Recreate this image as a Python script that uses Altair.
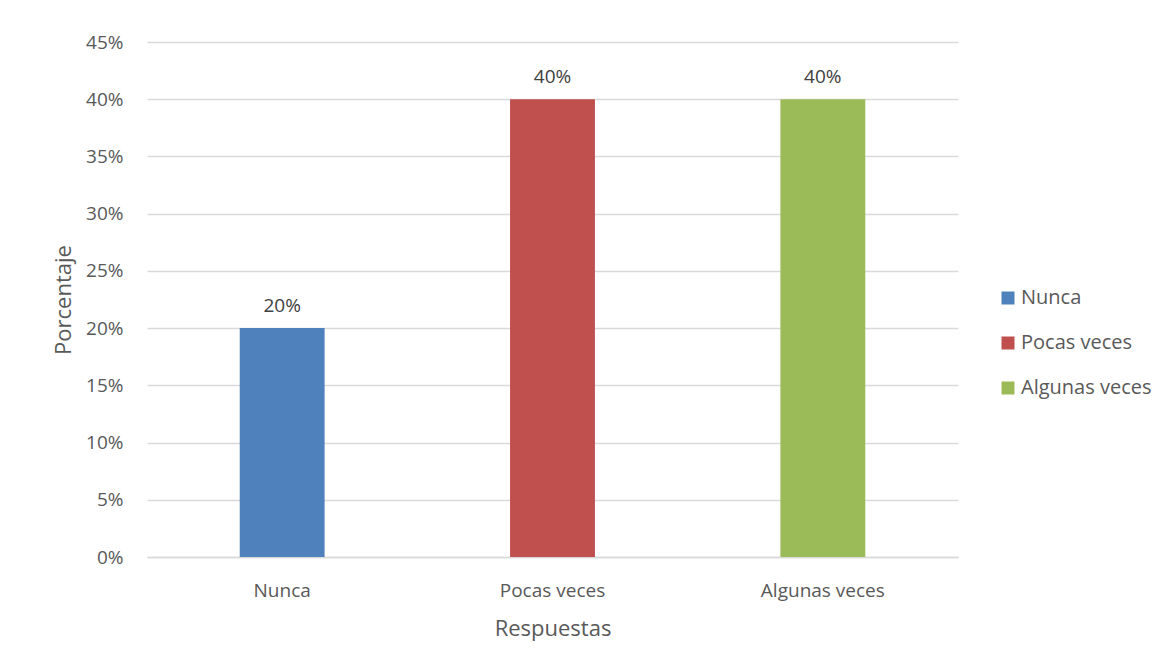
import altair as alt
import pandas as pd

categorias = ["Nunca", "Pocas veces", "Algunas veces"]
porcentajes = [0.20, 0.40, 0.40]
colores = ["#4F81BD", "#C0504D", "#9BBB59"]

df = pd.DataFrame({"Respuestas": categorias, "Porcentaje": porcentajes})

FONT = "Open Sans"

base = alt.Chart(df).encode(
    x=alt.X("Respuestas:N", sort=categorias,
            scale=alt.Scale(paddingInner=0.686, paddingOuter=0.343),
            axis=alt.Axis(title="Respuestas", labelAngle=0, ticks=False, domain=True,
                          domainColor="#d9d9d9", domainWidth=1.5,
                          labelPadding=24, titlePadding=18,
                          labelFontSize=19, titleFontSize=22,
                          labelColor="#595959", titleColor="#595959",
                          labelFont=FONT, titleFont=FONT, titleFontWeight="normal")),
    y=alt.Y("Porcentaje:Q",
            scale=alt.Scale(domain=[0, 0.45]),
            axis=alt.Axis(title="Porcentaje", format=".0%", values=[i * 0.05 for i in range(10)],
                          ticks=False, domain=False, grid=True, gridColor="#d9d9d9", gridWidth=1.5,
                          labelPadding=24, titlePadding=10,
                          labelFontSize=19, titleFontSize=22,
                          labelColor="#595959", titleColor="#595959",
                          labelFont=FONT, titleFont=FONT, titleFontWeight="normal")),
)

bars = base.mark_bar().encode(
    color=alt.Color("Respuestas:N", sort=categorias,
                    scale=alt.Scale(domain=categorias, range=colores),
                    legend=alt.Legend(title=None, orient="none", legendX=851, legendY=246,
                                      symbolType="square", symbolSize=169, symbolStrokeWidth=0,
                                      labelFontSize=20, labelColor="#595959", labelFont=FONT,
                                      rowPadding=25, labelOffset=3))
)

text = base.mark_text(baseline="bottom", dy=-12, fontSize=19, color="#404040", font=FONT).encode(
    text=alt.Text("Porcentaje:Q", format=".0%")
)

chart = (bars + text).properties(
    width=811, height=515,
    autosize=alt.AutoSizeParams(type="none"),
    padding={"left": 139, "top": 34, "right": 193, "bottom": 95},
).configure_view(stroke=None)

chart.save("out.html", embed_options={"renderer": "svg", "actions": False})
